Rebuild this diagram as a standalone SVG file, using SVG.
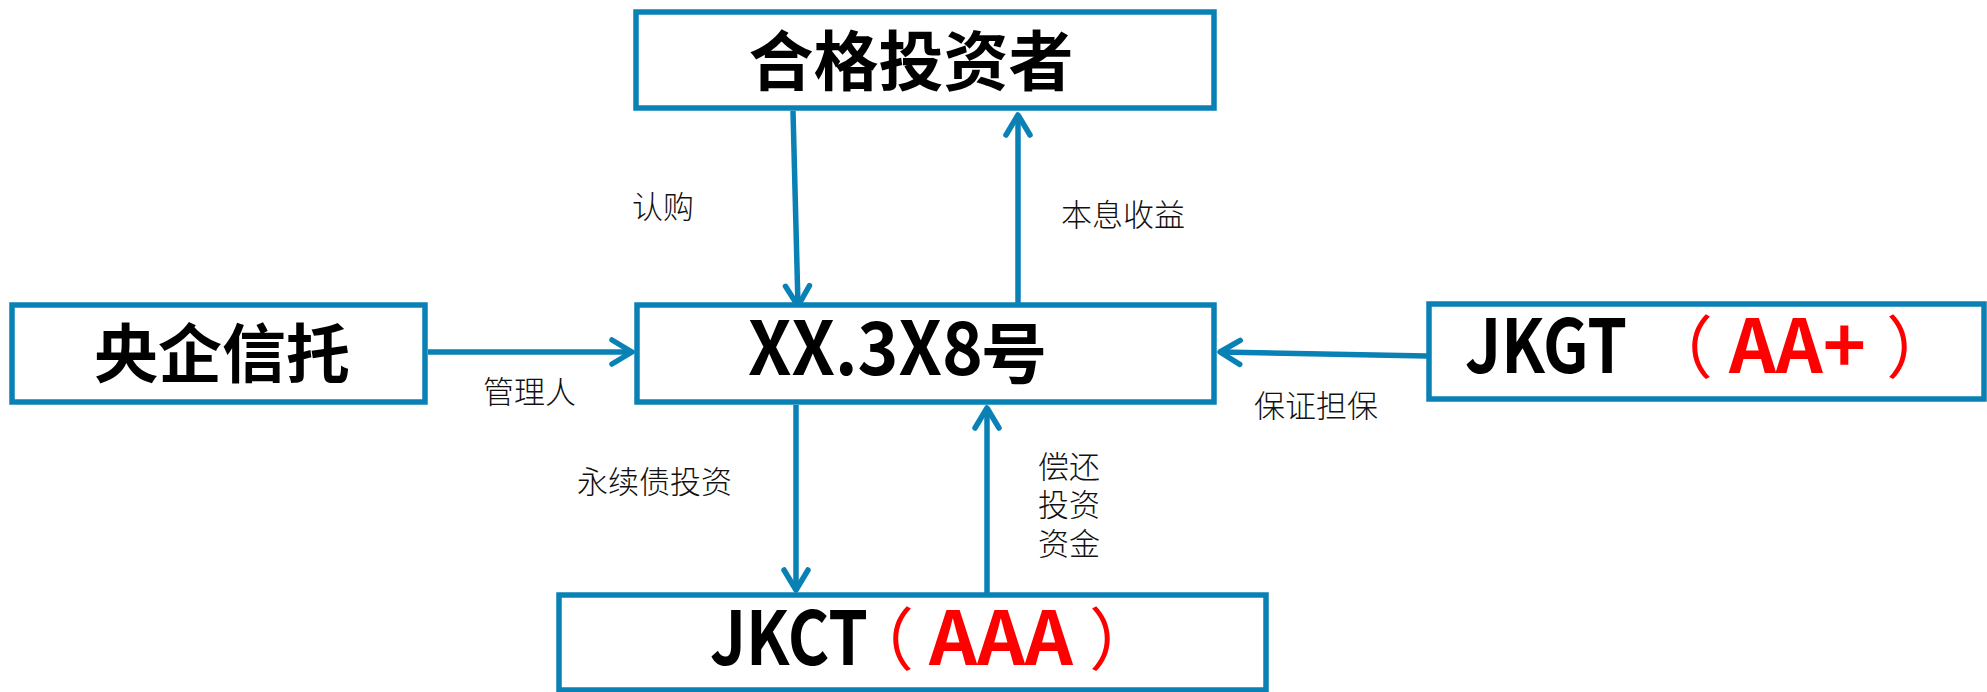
<svg xmlns="http://www.w3.org/2000/svg" width="1987" height="692" viewBox="0 0 1987 692">
<style>
.box{fill:#fff;stroke:#0A81B5;stroke-width:5.5}
.big{font-family:"Noto Sans CJK SC","Liberation Sans",sans-serif;font-weight:700;fill:#000}
.red{fill:#FF0000}
.paren{font-weight:400;fill:#FF0000;font-size:68px}
.lbl{font-family:"Noto Sans CJK SC",sans-serif;font-weight:300;font-size:31px;fill:#111}
.conn{fill:none;stroke:#0A81B5;stroke-width:5.5}
</style>
<defs>
<marker id="ah" markerUnits="userSpaceOnUse" viewBox="-26 -16 30 32" refX="0" refY="0" markerWidth="30" markerHeight="32" orient="auto" overflow="visible">
<path d="M-20,-12 L0,0 L-20,12" fill="none" stroke="#0A81B5" stroke-width="5.5" stroke-linecap="round" stroke-linejoin="round"/>
</marker>
</defs>
<rect width="1987" height="692" fill="#fff"/>
<g id="connectors">
<path class="conn" d="M793,111 L798,306" marker-end="url(#ah)"/>
<path class="conn" d="M1018,304 L1018,115" marker-end="url(#ah)"/>
<path class="conn" d="M428,352 L632,352" marker-end="url(#ah)"/>
<path class="conn" d="M1427,356 L1220,352" marker-end="url(#ah)"/>
<path class="conn" d="M796,405 L796,590" marker-end="url(#ah)"/>
<path class="conn" d="M987,593 L987,408" marker-end="url(#ah)"/>
<text class="lbl" x="632" y="218">认购</text>
<text class="lbl" x="1061" y="226">本息收益</text>
<text class="lbl" x="483" y="403">管理人</text>
<text class="lbl" x="1254" y="417">保证担保</text>
<text class="lbl" x="577" y="493">永续债投资</text>
<text class="lbl" x="1038" y="478">偿还</text>
<text class="lbl" x="1038" y="516">投资</text>
<text class="lbl" x="1038" y="555">资金</text>
</g>
<g id="investor">
<rect class="box" x="636" y="12" width="578" height="96"/>
<text class="big" x="911" y="85" font-size="65" text-anchor="middle">合格投资者</text>
</g>
<g id="trust">
<rect class="box" x="12" y="305" width="413" height="97"/>
<text class="big" x="222" y="377" font-size="64" text-anchor="middle">央企信托</text>
</g>
<g id="product">
<rect class="box" x="637" y="305" width="577" height="97"/>
<text class="big" y="375" font-size="74"><tspan x="748" textLength="235" lengthAdjust="spacingAndGlyphs">XX.3X8</tspan><tspan x="981" font-size="66" dy="3">号</tspan></text>
</g>
<g id="guarantor">
<rect class="box" x="1429" y="304" width="555" height="95"/>
<text class="big" y="373" font-size="74"><tspan x="1465" textLength="162" lengthAdjust="spacingAndGlyphs">JKGT</tspan><tspan class="paren" x="1645">（</tspan><tspan class="red" x="1729" textLength="137" lengthAdjust="spacingAndGlyphs">AA+</tspan><tspan class="paren" x="1886">）</tspan></text>
</g>
<g id="issuer">
<rect class="box" x="559" y="595" width="707" height="95"/>
<text class="big" y="665" font-size="74"><tspan x="710" textLength="158" lengthAdjust="spacingAndGlyphs">JKCT</tspan><tspan class="paren" x="846">（</tspan><tspan class="red" x="929" textLength="144" lengthAdjust="spacingAndGlyphs">AAA</tspan><tspan class="paren" x="1089">）</tspan></text>
</g>
</svg>
